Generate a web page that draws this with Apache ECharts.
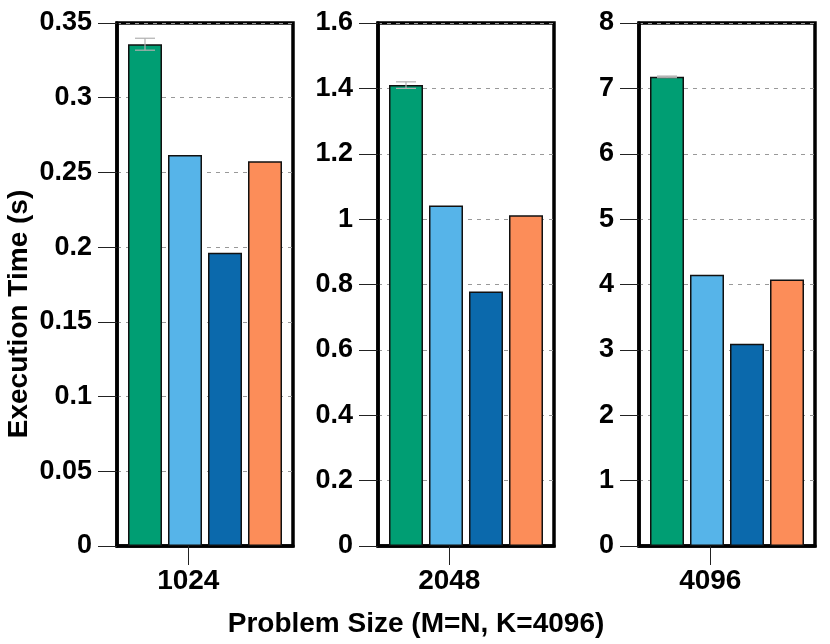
<!DOCTYPE html>
<html>
<head>
<meta charset="utf-8">
<script src="https://cdn.jsdelivr.net/npm/echarts@6/dist/echarts.min.js"></script>
<style>html,body{margin:0;padding:0;background:#fff;}#c{width:830px;height:644px;}</style>
</head>
<body>
<div id="c"></div>
<script>
// ---- data ----
const sizes = ['1024', '2048', '4096'];
const seriesA = [0.3358, 1.410, 7.176];   // green
const errA    = [0.004, 0.010, 0.012];
const seriesB = [0.2617, 1.042, 4.148];   // light blue
const seriesC = [0.1962, 0.7786, 3.095];  // dark blue
const seriesD = [0.2574, 1.0117, 4.076];  // orange
const yMax = [0.35, 1.6, 8];
const yStep = [0.05, 0.2, 1];
const xTitle = 'Problem Size (M=N, K=4096)';
const yTitle = 'Execution Time (s)';

// ---- style / layout ----
const colors = ['#009E73', '#56B4E9', '#0B69AC', '#FC8D59'];
const FONT = "'Liberation Sans', Arial, sans-serif";
const gridLefts = [117, 378, 639];
const GW = 176, GT = 23, GH = 523;
const BW = 34, GAP = 6;
const tickPos = 0.405;

const chart = echarts.init(document.getElementById('c'));
const grids = [], xAxes = [], yAxes = [], series = [];
const allSeries = [seriesA, seriesB, seriesC, seriesD];

for (let p = 0; p < 3; p++) {
  grids.push({left: gridLefts[p], top: GT, width: GW, height: GH, show: true,
    borderColor: '#000', borderWidth: 3.5, backgroundColor: 'transparent',
    outerBoundsMode: 'none', containLabel: false});
  xAxes.push({type: 'category', gridIndex: p, data: [sizes[p]],
    axisLine: {show: true, lineStyle: {color: '#000', width: 3.5}},
    axisTick: {show: false}, axisLabel: {show: false}, splitLine: {show: false}});
  xAxes.push({type: 'value', gridIndex: p, min: 0, max: 1, position: 'bottom',
    axisLine: {show: false}, splitLine: {show: false},
    axisTick: {show: true, length: 19, customValues: [tickPos], lineStyle: {color: '#222', width: 1}},
    axisLabel: {show: true, customValues: [tickPos], margin: 21, color: '#000',
      fontFamily: FONT, fontWeight: 'bold', fontSize: 28,
      formatter: (function (lab) { return function () { return lab; }; })(sizes[p])}});
  yAxes.push({type: 'value', gridIndex: p, min: 0, max: yMax[p], interval: yStep[p],
    axisLine: {show: true, lineStyle: {color: '#000', width: 3.5}},
    axisTick: {show: true, length: 19, lineStyle: {color: '#222', width: 1}},
    axisLabel: {color: '#000', fontFamily: FONT, fontWeight: 'bold', fontSize: 27, margin: 25},
    splitLine: {show: true, lineStyle: {color: '#999', type: [4, 5], width: 1}}});

  allSeries.forEach(function (arr, s) {
    series.push({type: 'bar', name: 'S' + (s + 1), xAxisIndex: p * 2, yAxisIndex: p,
      data: [arr[p]], barWidth: BW, barGap: (GAP / BW * 100) + '%',
      itemStyle: {color: colors[s], borderColor: '#111', borderWidth: 1.5},
      emphasis: {disabled: true}, z: 2});
  });
  series.push({type: 'custom', xAxisIndex: p * 2, yAxisIndex: p, z: 5,
    data: [[0, seriesA[p] - errA[p], seriesA[p] + errA[p]]],
    renderItem: function (params, api) {
      const lo = api.coord([api.value(0), api.value(1)]);
      const hi = api.coord([api.value(0), api.value(2)]);
      const total = 4 * BW + 3 * GAP;
      const x = lo[0] - total / 2 + BW / 2;
      const hw = 10;
      const st = {stroke: '#b0b0b0', lineWidth: 1.2, fill: null};
      return {type: 'group', children: [
        {type: 'line', shape: {x1: x, y1: lo[1], x2: x, y2: hi[1]}, style: st},
        {type: 'line', shape: {x1: x - hw, y1: lo[1], x2: x + hw, y2: lo[1]}, style: st},
        {type: 'line', shape: {x1: x - hw, y1: hi[1], x2: x + hw, y2: hi[1]}, style: st}
      ]};
    }});
}

chart.setOption({
  animation: false,
  backgroundColor: '#fff',
  grid: grids, xAxis: xAxes, yAxis: yAxes, series: series,
  graphic: [
    {type: 'text', x: 416, y: 624, style: {text: xTitle, fill: '#000', font: "bold 28px " + FONT,
      textAlign: 'center', textVerticalAlign: 'middle'}},
    {type: 'text', x: 19, y: 314, rotation: Math.PI / 2, style: {text: yTitle, fill: '#000',
      font: "bold 28px " + FONT, textAlign: 'center', textVerticalAlign: 'middle'}}
  ]
});
</script>
</body>
</html>
